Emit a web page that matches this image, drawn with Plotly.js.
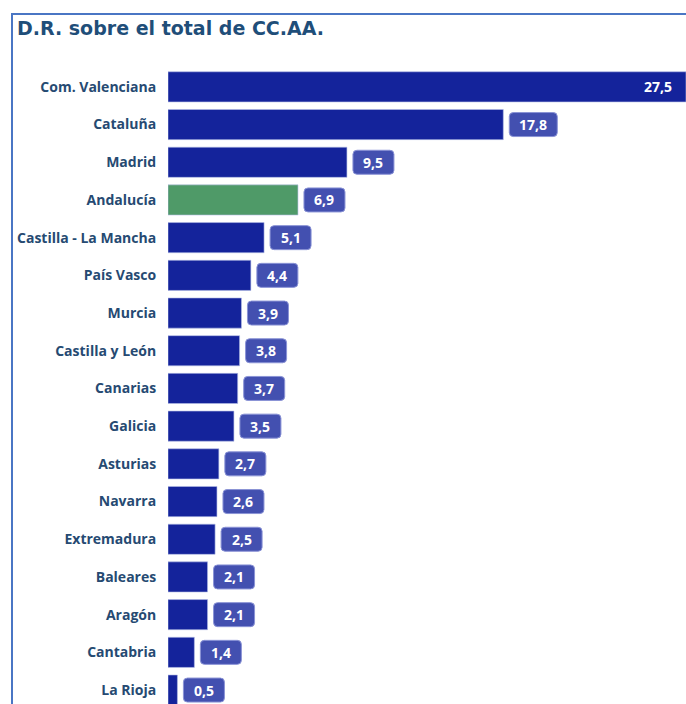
<!DOCTYPE html>
<html>
<head>
<meta charset="utf-8">
<script src="https://cdn.plot.ly/plotly-3.0.1.min.js"></script>
<style>
  html, body { margin: 0; padding: 0; background: #ffffff; }
  #wrap { position: relative; width: 686px; height: 704px; overflow: hidden; }
  #frame { position: absolute; left: 11px; top: 13px; width: 700px; height: 720px;
           border-left: 2px solid #4a76c4; border-top: 2px solid #4a76c4; box-sizing: border-box; }
  #chart { position: absolute; left: 0; top: 0; width: 686px; height: 704px; }
</style>
</head>
<body>
<div id="wrap">
  <div id="chart"></div>
  <div id="frame"></div>
</div>
<script>
const categories = ["Com. Valenciana", "Cataluña", "Madrid", "Andalucía", "Castilla - La Mancha",
  "País Vasco", "Murcia", "Castilla y León", "Canarias", "Galicia", "Asturias", "Navarra",
  "Extremadura", "Baleares", "Aragón", "Cantabria", "La Rioja"];
const values = [27.5, 17.8, 9.5, 6.9, 5.1, 4.4, 3.9, 3.8, 3.7, 3.5, 2.7, 2.6, 2.5, 2.1, 2.1, 1.4, 0.5];
const highlight = "Andalucía";
const titleText = "D.R. sobre el total de CC.AA.";

const barColor = "#14239b";
const hiColor = "#4f9a68";
const boxColor = "#4350b0";
const labelColor = "#264a72";

const fmt = v => v.toFixed(1).replace(".", ",");
const colors = categories.map(c => c === highlight ? hiColor : barColor);

const trace = {
  type: "bar",
  orientation: "h",
  y: categories,
  x: values,
  marker: { color: colors, line: { color: "rgba(180,190,230,0.6)", width: 1 } },
  hoverinfo: "none",
  cliponaxis: false
};

const shapes = [];
const annotations = [];
const maxV = Math.max(...values);
values.forEach((v, i) => {
  const t = fmt(v);
  if (v === maxV) {
    annotations.push({
      x: v, y: categories[i], xref: "x", yref: "y", text: t, showarrow: false,
      xanchor: "right", xshift: -12,
      font: { family: "Open Sans", size: 14, color: "#ffffff", weight: 700 }
    });
    return;
  }
  const w = t.length >= 4 ? 48 : 41;
  const h2 = 12, r = 4, g = 6;
  const x0 = g, x1 = g + w;
  const path = `M ${x0 + r},${-h2} L ${x1 - r},${-h2} Q ${x1},${-h2} ${x1},${-h2 + r} ` +
               `L ${x1},${h2 - r} Q ${x1},${h2} ${x1 - r},${h2} L ${x0 + r},${h2} ` +
               `Q ${x0},${h2} ${x0},${h2 - r} L ${x0},${-h2 + r} Q ${x0},${-h2} ${x0 + r},${-h2} Z`;
  shapes.push({
    type: "path", xref: "x", yref: "y", xsizemode: "pixel", ysizemode: "pixel",
    xanchor: v, yanchor: categories[i], path: path,
    fillcolor: boxColor, line: { color: "#8a93d6", width: 1 }, layer: "above"
  });
  annotations.push({
    x: v, y: categories[i], xref: "x", yref: "y", text: t, showarrow: false,
    xanchor: "center", xshift: g + w / 2,
    font: { family: "Open Sans", size: 14, color: "#ffffff", weight: 700 }
  });
});

const layout = {
  width: 686, height: 704,
  margin: { l: 168, r: 0, t: 68, b: 0, pad: 0 },
  paper_bgcolor: "#ffffff", plot_bgcolor: "#ffffff",
  showlegend: false,
  bargap: 0.2,
  title: {
    text: "<b>" + titleText + "</b>",
    x: 17 / 686, xanchor: "left", xref: "container",
    y: 1 - 28 / 704, yanchor: "middle", yref: "container",
    font: { family: "DejaVu Sans", size: 19, color: "#1f4e79", weight: 700 }
  },
  xaxis: { range: [0, 27.5], visible: false, fixedrange: true },
  yaxis: {
    type: "category", range: [16.37, -0.5], showgrid: false, zeroline: false,
    showline: false, ticks: "outside", ticklen: 8, tickcolor: "rgba(0,0,0,0)",
    tickfont: { family: "Open Sans", size: 14, color: labelColor, weight: 700 },
    fixedrange: true
  },
  shapes: shapes,
  annotations: annotations
};

Plotly.newPlot("chart", [trace], layout, { displayModeBar: false, staticPlot: true });
</script>
</body>
</html>
